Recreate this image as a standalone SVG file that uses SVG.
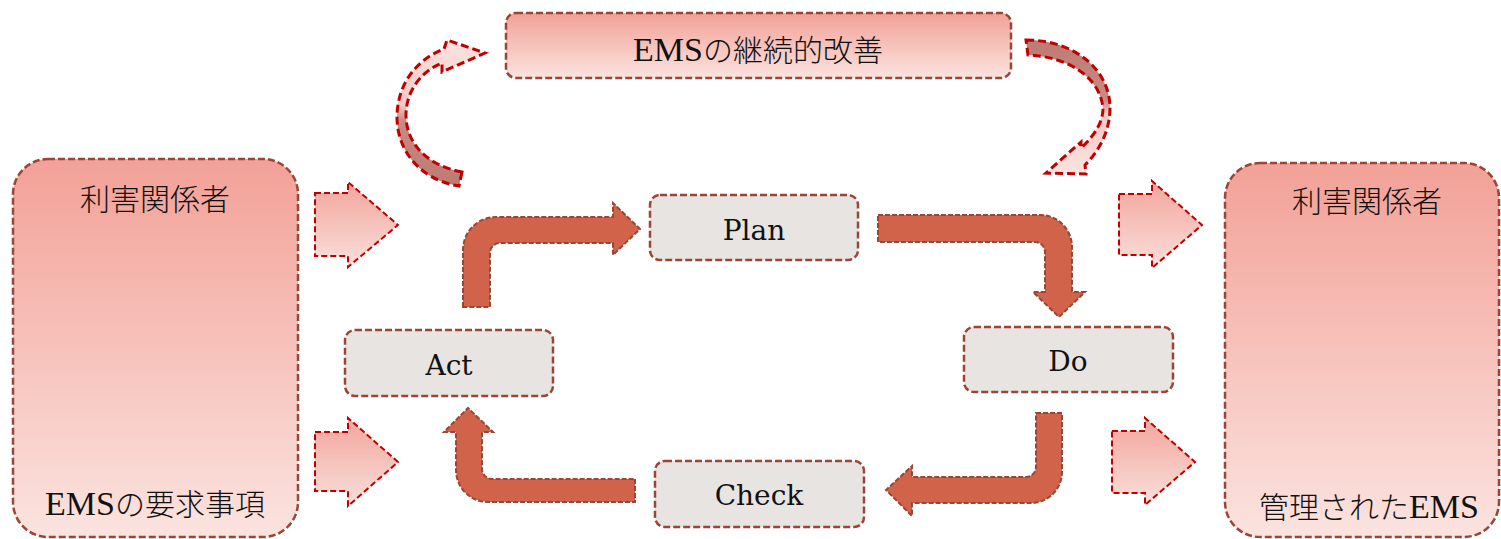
<svg xmlns="http://www.w3.org/2000/svg" width="1501" height="539" viewBox="0 0 1501 539">
<defs>
<linearGradient id="gBox" x1="0" y1="0" x2="0" y2="1">
<stop offset="0" stop-color="#f2a197"/>
<stop offset="1" stop-color="#fbe3df"/>
</linearGradient>
<linearGradient id="gArrow" x1="0" y1="0" x2="0" y2="1">
<stop offset="0" stop-color="#f2a59c"/>
<stop offset="1" stop-color="#fadfdb"/>
</linearGradient>
<linearGradient id="gCurveL" x1="0" y1="0" x2="0" y2="1">
<stop offset="0" stop-color="#fbe4e1"/>
<stop offset="0.45" stop-color="#f3c9c4"/>
<stop offset="0.55" stop-color="#c98b84"/>
<stop offset="1" stop-color="#bd7a72"/>
</linearGradient>
<linearGradient id="gCurveR" x1="0" y1="0" x2="0" y2="1">
<stop offset="0" stop-color="#bd7a72"/>
<stop offset="0.45" stop-color="#c98b84"/>
<stop offset="0.55" stop-color="#f3c9c4"/>
<stop offset="1" stop-color="#fbe4e1"/>
</linearGradient>
</defs>
<style>
.big{fill:url(#gBox);stroke:#9b4536;stroke-width:2.5;stroke-dasharray:7 3}
.proc{fill:#e8e4e1;stroke:#9b4536;stroke-width:2.5;stroke-dasharray:7 3}
.pdca{fill:#d0634a;stroke:#9b4536;stroke-width:2;stroke-dasharray:5 2}
.pink{fill:url(#gArrow);stroke:#c00000;stroke-width:2;stroke-dasharray:6 3}
.curve{stroke:#c00000;stroke-width:3;stroke-dasharray:8 4}
.jp{font-family:"Liberation Serif","Noto Sans CJK JP",serif;font-size:30px;font-weight:300;fill:#111;text-anchor:middle}
.em{font-weight:normal;font-size:34px}
.lbl{font-family:"DejaVu Serif","Liberation Serif",serif;font-size:28px;fill:#111;text-anchor:middle}
</style>
<rect width="1501" height="539" fill="#ffffff"/>

<g id="improve">
<rect class="big" x="506" y="13" width="505" height="65" rx="10"/>
<text class="jp" x="758" y="61"><tspan class="em">EMS</tspan>の継続的改善</text>
</g>

<g id="stakeholders-left">
<rect class="big" x="13" y="159" width="285" height="378" rx="35"/>
<text class="jp" x="155" y="210">利害関係者</text>
<text class="jp" x="155" y="515"><tspan class="em">EMS</tspan>の要求事項</text>
</g>

<g id="stakeholders-right">
<rect class="big" x="1225" y="163" width="274" height="374" rx="35"/>
<text class="jp" x="1367" y="212">利害関係者</text>
<text class="jp" x="1369" y="518">管理された<tspan class="em">EMS</tspan></text>
</g>

<g id="plan">
<rect class="proc" x="650" y="195" width="208" height="65" rx="10"/>
<text class="lbl" x="754" y="240">Plan</text>
</g>
<g id="do">
<rect class="proc" x="964" y="327" width="209" height="65" rx="10"/>
<text class="lbl" x="1068" y="371">Do</text>
</g>
<g id="check">
<rect class="proc" x="655" y="461" width="209" height="66" rx="10"/>
<text class="lbl" x="759" y="505">Check</text>
</g>
<g id="act">
<rect class="proc" x="345" y="330" width="208" height="66" rx="10"/>
<text class="lbl" x="449" y="375">Act</text>
</g>

<g id="connectors">
<path class="pdca" d="M463,307 L463,250 A33,33 0 0 1 496,217 L613,217 L613,203 L640,229 L613,255 L613,243 L500,243 A10,10 0 0 0 490,253 L490,307 Z"/>
<path class="pdca" d="M878,215 L1040,215 A32,32 0 0 1 1072,247 L1072,292 L1085,292 L1059,317 L1033,292 L1045,292 L1045,252 A10,10 0 0 0 1035,242 L878,242 Z"/>
<path class="pdca" d="M1036,413 L1062,413 L1062,472 A31,31 0 0 1 1031,503 L912,503 L912,516 L886,490 L912,466 L912,477 L1026,477 A10,10 0 0 0 1036,467 Z"/>
<path class="pdca" d="M635,479 L635,502 L488,502 A32,32 0 0 1 456,470 L456,432 L444,432 L468,408 L493,432 L482,432 L482,469 A10,10 0 0 0 492,479 Z"/>

<path class="pink" d="M315,193 L348,193 L348,182 L398,225 L348,267 L348,256 L315,256 Z"/>
<path class="pink" d="M315,432 L348,432 L348,418 L398,462 L348,506 L348,491 L315,491 Z"/>
<path class="pink" d="M1119,194 L1152,194 L1152,181 L1202,225 L1152,268 L1152,255 L1119,255 Z"/>
<path class="pink" d="M1112,431 L1145,431 L1145,418 L1195,462 L1145,505 L1145,493 L1112,493 Z"/>

<path class="curve" fill="url(#gCurveL)" d="M462,172 L459,186 C420,180 396,150 397,115 C398,85 415,60 444,49 L447,40 L485,53 L442,72 L442,63 C420,72 406,92 406,115 C406,142 425,165 462,172 Z"/>
<path class="curve" fill="url(#gCurveR)" d="M1026,40 C1075,40 1110,70 1110,108 C1110,130 1100,150 1085,165 L1086,174 L1046,173 L1081,142 L1081,148 C1095,135 1103,122 1103,108 C1100,78 1070,57 1028,55 Z"/>
</g>
</svg>
